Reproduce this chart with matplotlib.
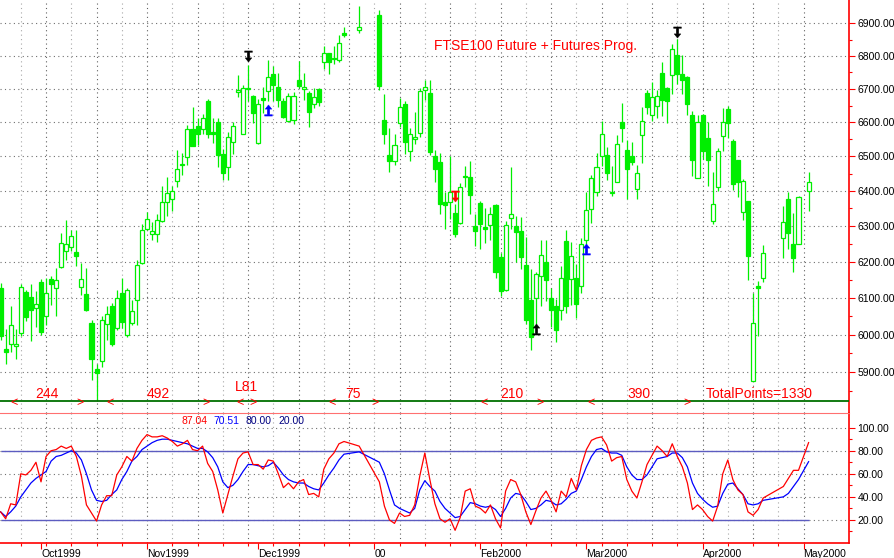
import numpy as np
import pandas as pd
import matplotlib
matplotlib.use('Agg')
import matplotlib.pyplot as plt
from matplotlib.path import Path
from matplotlib.transforms import blended_transform_factory

# FTSE100 future, daily bars 21 Sep 1999 - 2 May 2000 (None = no quote that day)
dates = pd.bdate_range('1999-09-21', '2000-05-02')

opens = [6128, 5962, 5976, 5970, 6005, 6116, 6103, 6073, 6145, 6050,
         6153, 6128, 6186, 6231, 6241, 6226, 6131, 6112, 6033, 5908,
         5931, 6028, 6079, 6019, 6114, 6000, 6031, 6093, 6197, 6293,
         6278, 6278, 6313, 6367, 6376, 6430, 6474, 6497, 6580, 6590,
         6580, 6665, 6572, 6600, 6508, 6470, 6541, 6690, 6567, 6700,
         6678, 6538, 6673, 6693, 6746, 6706, 6665, 6605, 6607, 6726,
         6700, 6688, 6655, 6700, 6782, 6808, 6790, 6788, 6870, None,
         None, 6878, None, None, None, 6925, 6607, 6503, 6487, 6599,
         6656, 6515, 6550, 6569, 6696, 6688, 6502, 6484, 6367, 6367,
         6336, 6309, 6440, 6440, 6299, 6365, 6298, 6303, 6360, 6213,
         6121, 6323, 6299, 6286, 6191, 6093, 6100, 6160, 6200, 6100,
         6077, 6066, 6257, 6153, 6154, 6133, 6262, 6348, 6396, 6502,
         6504, 6395, 6427, 6600, 6520, 6502, 6405, 6563, 6688, 6621,
         6650, 6747, 6703, 6743, 6802, 6744, 6737, 6621, 6437, 6621,
         6554, 6313, 6410, 6560, 6640, 6545, 6488, 6341, 6371, 5876,
         6132, 6155, None, None, None, 6265, 6377, 6250, 6250, None,
         6399]
highs = [6140, 6015, 6077, 6016, 6137, 6123, 6137, 6118, 6151, 6155,
         6160, 6183, 6279, 6317, 6290, 6288, 6197, 6183, 6040, 5922,
         6050, 6077, 6086, 6123, 6155, 6128, 6095, 6206, 6306, 6340,
         6311, 6335, 6413, 6440, 6414, 6520, 6510, 6592, 6645, 6612,
         6626, 6670, 6612, 6612, 6523, 6572, 6602, 6743, 6713, 6773,
         6683, 6670, 6706, 6787, 6768, 6748, 6673, 6688, 6690, 6785,
         6748, 6693, 6703, 6703, 6830, 6810, 6830, 6865, 6890, None,
         None, 6955, None, None, None, 6942, 6686, 6582, 6567, 6673,
         6663, 6582, 6632, 6703, 6728, 6728, 6520, 6510, 6396, 6500,
         6362, 6422, 6472, 6486, 6335, 6372, 6350, 6353, 6362, 6224,
         6315, 6468, 6329, 6325, 6268, 6180, 6170, 6262, 6260, 6128,
         6097, 6188, 6290, 6256, 6193, 6265, 6396, 6446, 6510, 6603,
         6528, 6472, 6563, 6658, 6549, 6543, 6475, 6646, 6698, 6722,
         6696, 6780, 6705, 6836, 6852, 6802, 6740, 6634, 6621, 6625,
         6600, 6456, 6525, 6643, 6650, 6550, 6490, 6433, 6371, 6114,
         6146, 6247, None, None, None, 6357, 6397, 6337, 6385, None,
         6455]
lows = [5985, 5922, 5955, 5935, 5998, 6037, 5982, 6022, 6000, 6026,
        6082, 6050, 6182, 6205, 6230, 6188, 6109, 6063, 5880, 5825,
        5915, 5985, 5971, 6012, 6019, 5994, 6026, 6026, 6193, 6288,
        6261, 6256, 6311, 6327, 6344, 6412, 6445, 6474, 6529, 6534,
        6566, 6553, 6540, 6470, 6432, 6432, 6508, 6676, 6567, 6664,
        6599, 6535, 6627, 6663, 6663, 6646, 6612, 6602, 6595, 6703,
        6668, 6587, 6642, 6650, 6760, 6745, 6775, 6782, 6858, None,
        None, 6870, None, None, None, 6696, 6535, 6455, 6475, 6587,
        6508, 6487, 6535, 6557, 6668, 6505, 6425, 6333, 6292, 6320,
        6268, 6305, 6412, 6335, 6245, 6236, 6251, 6260, 6156, 6105,
        6118, 6292, 6200, 6181, 6030, 5960, 6030, 6077, 6091, 6022,
        5980, 6040, 6060, 6081, 6045, 6114, 6250, 6308, 6385, 6472,
        6432, 6385, 6425, 6543, 6378, 6475, 6378, 6482, 6626, 6603,
        6613, 6618, 6598, 6685, 6716, 6685, 6621, 6443, 6437, 6493,
        6414, 6305, 6400, 6516, 6553, 6404, 6383, 6318, 6150, 5876,
        5997, 6143, None, None, None, 6210, 6236, 6172, 6250, None,
        6342]
closes = [5998, 5955, 6027, 5976, 6131, 6047, 6066, 6084, 6008, 6114,
          6137, 6149, 6253, 6249, 6273, 6215, 6153, 6066, 5934, 5899,
          6040, 6056, 5976, 6100, 6035, 6123, 6065, 6190, 6290, 6321,
          6287, 6316, 6367, 6393, 6401, 6464, 6479, 6580, 6531, 6566,
          6614, 6567, 6566, 6503, 6453, 6558, 6589, 6698, 6703, 6703,
          6628, 6655, 6666, 6736, 6711, 6666, 6615, 6678, 6678, 6708,
          6706, 6632, 6676, 6660, 6808, 6782, 6792, 6840, 6863, None,
          None, 6888, None, None, None, 6710, 6567, 6487, 6533, 6645,
          6542, 6567, 6557, 6693, 6706, 6512, 6463, 6362, 6360, 6396,
          6278, 6410, 6443, 6388, 6285, 6307, 6292, 6335, 6172, 6118,
          6303, 6333, 6283, 6214, 6040, 5995, 6165, 6220, 6150, 6066,
          6014, 6156, 6077, 6215, 6083, 6250, 6345, 6436, 6469, 6566,
          6452, 6397, 6535, 6583, 6463, 6485, 6451, 6605, 6645, 6676,
          6678, 6666, 6665, 6822, 6744, 6727, 6654, 6488, 6602, 6516,
          6490, 6364, 6515, 6602, 6598, 6421, 6426, 6428, 6216, 6031,
          6126, 6224, None, None, None, 6311, 6279, 6211, 6382, None,
          6427]

# stochastic oscillator (%K red, %D blue)
stoch_k = [27, 21, 34, 33, 60, 59, 63, 70, 53, 75,
           80, 81, 84, 82, 84, 75, 58, 33, 26, 19,
           33, 41, 41, 59, 66, 75, 71, 82, 89, 94,
           92, 92, 93, 91, 88, 84, 86, 89, 81, 80,
           84, 69, 62, 46, 26, 42, 58, 73, 78, 79,
           68, 68, 64, 72, 71, 60, 48, 52, 47, 53,
           55, 42, 43, 40, 64, 73, 78, 86, 88, None,
           None, 84, None, None, None, 53, 32, 20, 17, 26,
           23, 24, 33, 58, 78, 55, 34, 21, 18, 21,
           11, 22, 45, 47, 32, 30, 26, 33, 21, 13,
           45, 55, 53, 42, 27, 16, 28, 39, 45, 37,
           27, 45, 40, 56, 46, 67, 81, 89, 91, 92,
           85, 71, 74, 75, 55, 45, 39, 53, 68, 76,
           84, 80, 75, 86, 75, 66, 52, 29, 33, 29,
           23, 19, 32, 60, 72, 55, 46, 42, 27, 24,
           29, 39, None, None, None, 49, 56, 63, 63, None,
           87.04]
stoch_d = [27, 23, 27, 32, 40, 46, 52, 56, 59, 62,
           71, 75, 76, 78, 80, 78, 72, 60, 46, 37,
           36, 37, 42, 46, 55, 62, 71, 75, 81, 84,
           87, 89, 90, 90, 89, 88, 87, 86, 84, 82,
           82, 79, 74, 66, 53, 48, 50, 55, 62, 68,
           68, 67, 66, 67, 70, 65, 59, 55, 53, 52,
           52, 49, 47, 46, 52, 59, 65, 72, 77, None,
           None, 79, None, None, None, 70, 60, 46, 33, 30,
           28, 26, 30, 46, 54, 49, 45, 36, 30, 26,
           22, 23, 29, 35, 34, 32, 31, 32, 29, 23,
           30, 39, 43, 42, 36, 29, 30, 33, 37, 36,
           33, 34, 38, 43, 45, 55, 66, 75, 81, 82,
           79, 78, 78, 76, 66, 59, 55, 55, 59, 66,
           73, 74, 75, 78, 78, 74, 66, 52, 43, 38,
           34, 31, 32, 43, 51, 52, 47, 42, 34, 33,
           34, 37, None, None, None, 40, 43, 49, 55, None,
           70.51]

# trade ranges (bar positions) and their points
trade_start = [2.65, 21.66, 47.5, 65.6, 95.7, 116.9]
trade_end = [15.7, 40.7, 50.0, 74.1, 106.8, 135.9]
trade_pts = ['244', '492', 'L81', '75', '210', '390']

# signal arrows: bar, price, direction, colour
sig_bar = [49, 134, 106, 53, 116, 90]
sig_price = [6800, 6873, 6016, 6638, 6234, 6386]
sig_dir = ['down', 'down', 'up', 'up', 'up', 'down']
sig_col = ['black', 'black', 'black', 'blue', 'blue', 'red']

price_levels = [5900, 6000, 6100, 6200, 6300, 6400, 6500, 6600, 6700, 6800, 6900]
osc_levels = [20, 40, 60, 80, 100]
month_labels = ['Oct1999', 'Nov1999', 'Dec1999', '00', 'Feb2000', 'Mar2000', 'Apr2000', 'May2000']

GREEN = '#00ee00'
W, H = 894, 558
plt.rcParams['font.family'] = ['Liberation Sans', 'DejaVu Sans']

pos = np.arange(len(dates))
o = np.array(opens, dtype=float)
h = np.array(highs, dtype=float)
l = np.array(lows, dtype=float)
c = np.array(closes, dtype=float)
k = np.array(stoch_k, dtype=float)
d = np.array(stoch_d, dtype=float)
ok = ~np.isnan(o)
up = ok & (c >= o)
dn = ok & (c < o)
mondays = pos[dates.weekday == 0]
month_pos = [p for p in pos[1:] if dates[p].month != dates[p - 1].month]

fig = plt.figure(figsize=(W / 100, H / 100), dpi=100)
ax1 = fig.add_axes([0, 1 - 413 / H, 849 / W, 413 / H])
ax2 = fig.add_axes([0, 1 - 543 / H, 849 / W, 130 / H])
xlim = (-0.12, 168.0)

# ---- price panel
ax1.set_yscale('log')
ax1.set_xlim(*xlim)
ax1.set_ylim(5793, 6972.5)
for v in price_levels:
    ax1.axhline(v, color='#707070', lw=0.8, ls=(0, (1, 3)), zorder=0)
for i, p in enumerate(mondays):
    col = '#606060' if i % 2 else '#a8a8a8'
    ax1.axvline(p, color=col, lw=0.8, ls=(0, (1, 3)), zorder=0)
    ax2.axvline(p, color=col, lw=0.8, ls=(0, (1, 3)), zorder=0)

ax1.vlines(pos[ok], l[ok], h[ok], color=GREEN, lw=0.9, zorder=2)
ax1.bar(pos[up], c[up] - o[up], bottom=o[up], width=0.8, facecolor='white',
        edgecolor=GREEN, lw=0.9, zorder=3)
ax1.bar(pos[dn], o[dn] - c[dn], bottom=c[dn], width=0.8, color=GREEN,
        edgecolor=GREEN, lw=0.9, zorder=3)

# T-shaped signal arrow
arrow = Path([(-0.7, 1), (0.7, 1), (0.7, 0.75), (0.22, 0.75), (0.22, -0.25), (0.6, -0.25),
              (0, -1), (-0.6, -0.25), (-0.22, -0.25), (-0.22, 0.75), (-0.7, 0.75), (-0.7, 1)],
             closed=True)
arrow_up = Path(arrow.vertices * [1, -1], closed=True)
for b, pr, dr, col in zip(sig_bar, sig_price, sig_dir, sig_col):
    ax1.plot(b, pr, marker=arrow if dr == 'down' else arrow_up, ms=8,
             color=col, mec=col, mew=0.3, zorder=5)

ax1.yaxis.tick_right()
ax1.set_yticks(price_levels)
ax1.set_yticklabels([f'{v:.2f}' for v in price_levels])
ax1.set_yticks([v + 50 for v in price_levels[:-1]] + [5850], minor=True)
ax1.yaxis.set_minor_formatter(matplotlib.ticker.NullFormatter())
ax1.tick_params(axis='y', which='major', direction='out', length=4, width=0.8,
                color='red', labelsize=7.5, labelcolor='black', pad=2)
ax1.tick_params(axis='y', which='minor', direction='out', length=2, width=0.8, color='red')
ax1.set_xticks([])
for s in ['top', 'left', 'bottom']:
    ax1.spines[s].set_visible(False)
ax1.spines['right'].set_color('red')
ax1.spines['right'].set_linewidth(1.2)

# trade strip
tr = blended_transform_factory(ax1.transData, ax1.transAxes)
ax1.plot([0, 1], [12 / 413, 12 / 413], transform=ax1.transAxes, color='#007000', lw=1.3, zorder=4)
for s, e, t in zip(trade_start, trade_end, trade_pts):
    ty = 26 / 413 if t.startswith('L') else 19.5 / 413
    ax1.text((s + e) / 2, ty, t, transform=tr, color='red', fontsize=10, ha='center', va='center')
    ax1.text(s, 10 / 413, '<', transform=tr, color='red', fontsize=9, ha='center', va='center', zorder=5)
    ax1.text(e, 10 / 413, '>', transform=tr, color='red', fontsize=9, ha='center', va='center', zorder=5)
ax1.text(759.5 / 849, 19.5 / 413, 'TotalPoints=1330', transform=ax1.transAxes,
         color='red', fontsize=10, ha='center', va='center')
ax1.text(535.5 / 849, 1 - 46 / 413, 'FTSE100 Future + Futures Prog.', transform=ax1.transAxes,
         color='red', fontsize=10, ha='center', va='center')

# ---- oscillator panel
ax2.set_xlim(*xlim)
ax2.set_ylim(0, 112.7)
for v in osc_levels:
    ax2.axhline(v, color='#707070', lw=0.8, ls=(0, (1, 3)), zorder=0)
ax2.hlines([80, 20], pos[0], pos[-1], color='#5c5cc0', lw=1, zorder=1)
mk = ~np.isnan(k)
ax2.plot(pos[mk], k[mk], color='red', lw=0.9, zorder=3)
md = ~np.isnan(d)
ax2.plot(pos[md], d[md], color='blue', lw=0.9, zorder=2)

ax2.yaxis.tick_right()
ax2.set_yticks(osc_levels)
ax2.set_yticklabels([f'{v:.2f}' for v in osc_levels])
ax2.set_yticks([10, 30, 50, 70, 90], minor=True)
ax2.tick_params(axis='y', which='major', direction='out', length=4, width=0.8,
                color='red', labelsize=7.5, labelcolor='black', pad=2)
ax2.tick_params(axis='y', which='minor', direction='out', length=2, width=0.8, color='red')
ax2.set_xticks(month_pos)
ax2.set_xticklabels(month_labels, ha='left')
ax2.set_xticks(mondays, minor=True)
ax2.tick_params(axis='x', which='major', direction='out', length=4, width=0.8,
                color='red', labelsize=7.5, labelcolor='black', pad=0.5)
ax2.tick_params(axis='x', which='minor', direction='out', length=2, width=0.8, color='red')
ax2.spines['left'].set_visible(False)
ax2.spines['top'].set_color('#ff7070')
for s in ['right', 'bottom']:
    ax2.spines[s].set_color('red')
    ax2.spines[s].set_linewidth(1.2)

fig.text(195 / W, 1 - 420.5 / H, f'{k[-1]:.2f}', color='red', fontsize=7.5, ha='center', va='center')
fig.text(226 / W, 1 - 420.5 / H, f'{d[-1]:.2f}', color='blue', fontsize=7.5, ha='center', va='center')
fig.text(258 / W, 1 - 420.5 / H, '80.00', color='#000080', fontsize=7.5, ha='center', va='center')
fig.text(291 / W, 1 - 420.5 / H, '20.00', color='#000080', fontsize=7.5, ha='center', va='center')

fig.savefig('out.png', dpi=100, facecolor='white')
